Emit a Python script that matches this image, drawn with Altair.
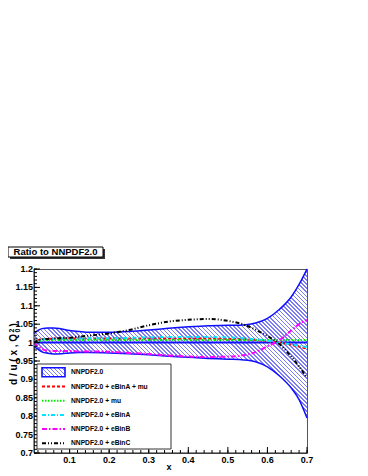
import math
import altair as alt
import pandas as pd

# ---------------- data ----------------
X = [0.01, 0.02, 0.03, 0.045, 0.06, 0.08, 0.10, 0.125, 0.15, 0.20, 0.25, 0.30,
     0.35, 0.40, 0.45, 0.50, 0.54, 0.57, 0.60, 0.63, 0.66, 0.68, 0.70]
BAND_HI = [1.024, 1.033, 1.038, 1.040, 1.040, 1.037, 1.033, 1.030, 1.028, 1.028, 1.030, 1.034,
           1.039, 1.043, 1.046, 1.047, 1.048, 1.053, 1.066, 1.090, 1.124, 1.158, 1.200]
BAND_LO = [0.990, 0.982, 0.975, 0.971, 0.969, 0.970, 0.972, 0.973, 0.973, 0.972, 0.970, 0.967,
           0.963, 0.960, 0.957, 0.955, 0.953, 0.948, 0.934, 0.910, 0.877, 0.845, 0.795]
RED = [1.000, 1.006, 1.009, 1.010, 1.011, 1.011, 1.011, 1.011, 1.011, 1.011, 1.011, 1.011,
       1.011, 1.011, 1.011, 1.010, 1.009, 1.007, 1.004, 1.000, 0.994, 0.989, 0.983]
GREEN = [1.000, 1.004, 1.006, 1.007, 1.007, 1.007, 1.007, 1.007, 1.007, 1.007, 1.007, 1.007,
         1.007, 1.007, 1.007, 1.007, 1.007, 1.007, 1.007, 1.007, 1.007, 1.007, 1.007]
CYAN = [1.000, 1.005, 1.008, 1.010, 1.010, 1.011, 1.011, 1.011, 1.012, 1.012, 1.013, 1.014,
        1.015, 1.015, 1.015, 1.014, 1.012, 1.009, 1.005, 1.000, 0.995, 0.991, 0.988]
MAGENTA = [1.000, 0.990, 0.983, 0.978, 0.977, 0.977, 0.977, 0.976, 0.976, 0.975, 0.972, 0.969,
           0.965, 0.962, 0.961, 0.962, 0.966, 0.974, 0.990, 1.006, 1.033, 1.050, 1.062]
BLACK = [1.000, 1.006, 1.009, 1.010, 1.011, 1.012, 1.013, 1.016, 1.019, 1.025, 1.034, 1.047,
         1.057, 1.062, 1.064, 1.059, 1.049, 1.035, 1.018, 0.996, 0.962, 0.935, 0.904]
CENTRAL = 1.0

SERIES_NAMES = ["NNPDF2.0 + eBinA + mu", "NNPDF2.0 + mu", "NNPDF2.0 + eBinA",
                "NNPDF2.0 + eBinB", "NNPDF2.0 + eBinC"]
SERIES_VALUES = [RED, GREEN, CYAN, MAGENTA, BLACK]
BAND_NAME = "NNPDF2.0"
TITLE_TEXT = "Ratio to NNPDF2.0"
X_TITLE = "x"

X_MAJOR = [0.1, 0.2, 0.3, 0.4, 0.5, 0.6, 0.7]
X_MINOR = [round(0.02 * i, 2) for i in range(1, 36)]
Y_MAJOR = [0.70, 0.75, 0.80, 0.85, 0.90, 0.95, 1.00, 1.05, 1.10, 1.15, 1.20]
Y_MINOR = [round(0.70 + 0.01 * i, 2) for i in range(51)]

# ---------------- styling ----------------
W, H = 273, 184
XMIN, XMAX = 0.01, 0.70
YMIN, YMAX = 0.70, 1.20
FONT = "Liberation Sans"
BLUE = "#1010ff"
HATCH = "#7c7cf4"
COLORS = ["#ff0000", "#00ee00", "#00e5ff", "#ff00ff", "#000000"]
DASHES = [[3, 2], [1.5, 1.5], [4, 2, 1, 2], [5, 2, 1.5, 2], [4, 2, 1, 2, 1, 2]]

xs = alt.Scale(domain=[XMIN, XMAX], nice=False, zero=False)
ys = alt.Scale(domain=[YMIN, YMAX], nice=False, zero=False)
one = pd.DataFrame({"k": [0]})


def hatch(w, h, period=2.9, duty=0.4, color=HATCH):
    """Diagonal '\\' hatching as a striped linear gradient in bbox units."""
    length = (w + h) / math.sqrt(2)
    n = max(1, round(length / period))
    s = (w + h) / (w * w + h * h)
    stops = []
    for i in range(n):
        a, b, c = i / n, (i + duty) / n, (i + 1) / n
        stops += [alt.GradientStop(offset=a, color=color),
                  alt.GradientStop(offset=b, color=color),
                  alt.GradientStop(offset=b, color="white"),
                  alt.GradientStop(offset=c, color="white")]
    return alt.LinearGradient(gradient="linear", stops=stops,
                              x1=0, y1=1, x2=s * w, y2=1 - s * h)


band_df = pd.DataFrame({"x": X, "hi": BAND_HI, "lo": BAND_LO})
band_w = (max(X) - min(X)) / (XMAX - XMIN) * W
band_h = (max(BAND_HI) - min(BAND_LO)) / (YMAX - YMIN) * H

layers = []

# band fill (hatched)
layers.append(
    alt.Chart(band_df).mark_area(interpolate="monotone", fill=hatch(band_w, band_h)).encode(
        x=alt.X("x:Q", scale=xs, axis=None),
        y=alt.Y("hi:Q", scale=ys, axis=None),
        y2="lo:Q",
    )
)
# band edges
for col in ["hi", "lo"]:
    layers.append(
        alt.Chart(band_df).mark_line(interpolate="monotone", color=BLUE, strokeWidth=1.5).encode(
            x=alt.X("x:Q", scale=xs, axis=None),
            y=alt.Y(f"{col}:Q", scale=ys, axis=None),
        )
    )
# central value
layers.append(
    alt.Chart(one).mark_rule(color=BLUE, strokeWidth=2).encode(
        y=alt.YDatum(CENTRAL, scale=ys, axis=None)
    )
)
# series lines
for name, vals, colr, dash in zip(SERIES_NAMES, SERIES_VALUES, COLORS, DASHES):
    df = pd.DataFrame({"x": X, "y": vals})
    layers.append(
        alt.Chart(df).mark_line(interpolate="monotone", color=colr, strokeWidth=2,
                                strokeDash=dash, clip=True).encode(
            x=alt.X("x:Q", scale=xs, axis=None),
            y=alt.Y("y:Q", scale=ys, axis=None),
        )
    )

# axis lines
layers.append(alt.Chart(one).mark_rule(color="#222222", strokeWidth=1).encode(
    x=alt.value(0), y=alt.value(0), y2=alt.value(H)))
layers.append(alt.Chart(one).mark_rule(color="#222222", strokeWidth=1).encode(
    x=alt.value(0), x2=alt.value(W), y=alt.value(H)))

# inward ticks
for vals, ln in [(Y_MINOR, 3), (Y_MAJOR, 6)]:
    layers.append(
        alt.Chart(pd.DataFrame({"v": vals})).mark_rule(color="black", strokeWidth=1).encode(
            y=alt.Y("v:Q", scale=ys, axis=None), x=alt.value(0), x2=alt.value(ln)
        )
    )
for vals, ln in [(X_MINOR, 3), (X_MAJOR, 6)]:
    layers.append(
        alt.Chart(pd.DataFrame({"v": vals})).mark_rule(color="black", strokeWidth=1).encode(
            x=alt.X("v:Q", scale=xs, axis=None), y=alt.value(H), y2=alt.value(H - ln)
        )
    )

# tick labels
layers.append(
    alt.Chart(pd.DataFrame({"v": Y_MAJOR})).mark_text(
        font=FONT, fontWeight="bold", fontSize=9, color="black", align="right",
        baseline="middle", dx=-1).encode(
        y=alt.Y("v:Q", scale=ys, axis=None), x=alt.value(0),
        text=alt.Text("v:Q", format=".2~f"))
)
layers.append(
    alt.Chart(pd.DataFrame({"v": X_MAJOR})).mark_text(
        font=FONT, fontWeight="bold", fontSize=9, color="black", align="center",
        baseline="middle").encode(
        x=alt.X("v:Q", scale=xs, axis=None), y=alt.value(H + 6.5),
        text=alt.Text("v:Q", format=".1f"))
)


def rect(x0, x1, y0, y1, **kw):
    return alt.Chart(one).mark_rect(**kw).encode(
        x=alt.value(x0), x2=alt.value(x1), y=alt.value(y0), y2=alt.value(y1))


def text(t, x, y, size, **kw):
    return alt.Chart(one).mark_text(font=FONT, fontWeight="bold", fontSize=size,
                                    color="black", **kw).encode(
        x=alt.value(x), y=alt.value(y), text=alt.value(t))


# title box
layers.append(rect(-24, 71, -20, -10, fill="#333333"))
layers.append(rect(-26, 69, -22, -12, fill="white", stroke="black", strokeWidth=1))
layers.append(text(TITLE_TEXT, 21.5, -16.8, 9.5, align="center", baseline="middle"))

# axis titles
layers.append(text(X_TITLE, 135, 197.5, 9, align="center", baseline="middle"))
layers.append(text("d / u ( x , Q", -17, 116, 10, align="left", baseline="alphabetic", angle=270))
layers.append(text("2", -22.5, 61.5, 7, align="center", baseline="middle", angle=270))
layers.append(text("0", -16.5, 61.5, 7, align="center", baseline="middle", angle=270))
layers.append(text(")", -17, 57.5, 10, align="left", baseline="alphabetic", angle=270))

# legend
LX0, LX1, LY0, LY1 = 3, 137, 95, 180
ROW0, STEP = 103.3, 14.2
SX0, SX1, TX = 8, 31, 37
layers.append(rect(LX0, LX1, LY0, LY1, fill="white", stroke="#333333", strokeWidth=1))
layers.append(rect(SX0, SX1, ROW0 - 4.5, ROW0 + 4.5, fill=hatch(SX1 - SX0, 9),
                   stroke=BLUE, strokeWidth=1.6))
layers.append(text(BAND_NAME, TX, ROW0, 6.7, align="left", baseline="middle"))
for i, (name, colr, dash) in enumerate(zip(SERIES_NAMES, COLORS, DASHES)):
    yy = ROW0 + STEP * (i + 1)
    layers.append(
        alt.Chart(one).mark_rule(color=colr, strokeWidth=2, strokeDash=dash).encode(
            x=alt.value(SX0), x2=alt.value(SX1), y=alt.value(yy))
    )
    layers.append(text(name, TX, yy, 6.7, align="left", baseline="middle"))

chart = alt.layer(*layers).properties(
    width=W, height=H,
    padding={"left": 26, "top": 261, "right": 12, "bottom": 22},
    autosize=alt.AutoSizeParams(type="none"),
).configure_view(stroke="#555555", strokeWidth=1)

chart.save("out.html", embed_options={"renderer": "svg", "actions": False})
